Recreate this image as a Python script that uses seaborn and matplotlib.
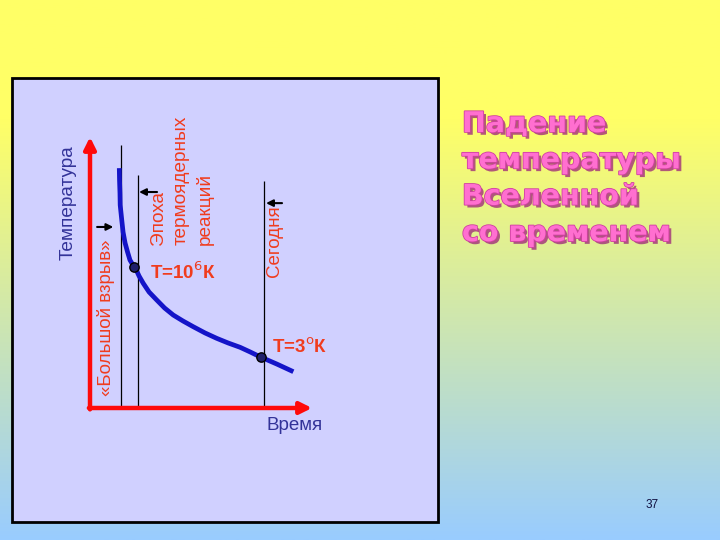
import matplotlib
matplotlib.use("Agg")
import matplotlib.pyplot as plt
import matplotlib.patheffects as pe
from matplotlib.colors import LinearSegmentedColormap
from matplotlib.patches import Rectangle
import numpy as np
import pandas as pd
import seaborn as sns

# blue cooling curve (time, temperature in arbitrary units 0-100)
time_pts = [13.2, 13.3, 13.5, 13.6, 14.3, 14.9, 15.8, 16.9, 18.0, 19.1, 20.3, 22.1, 24.0,
            26.6, 30.0, 33.6, 37.5, 41.9, 46.5, 51.8, 57.1, 62.2, 67.6, 72.1, 76.6, 84.2, 91.6]
temp_pts = [88.5, 84.1, 79.3, 74.9, 69.4, 64.9, 60.9, 57.6, 54.6, 53.1, 51.9, 48.7, 46.0,
            42.8, 39.9, 36.9, 34.3, 32.1, 30.0, 27.7, 25.7, 24.0, 22.4, 20.7, 18.9, 16.2, 13.4]

# marked moments on the curve
dot_time = [20.0, 77.0]
dot_temp = [52.1, 18.9]
dot_labels = ["Т=10$^{6}$К", "Т=3$^{\\mathrm{o}}$К"]

# vertical epoch lines: big bang, thermonuclear epoch, today
epoch_x = [14.0, 21.6, 78.4]
epoch_top = [97.0, 86.0, 83.8]
epoch_labels = ["«Большой взрыв»", "Эпоха\nтермоядерных\nреакций", "Сегодня"]

# small pointer arrows next to the epoch labels (start x, end x, y)
ptr_from = [3.2, 30.2, 86.5]
ptr_to = [10.5, 22.1, 79.3]
ptr_y = [66.8, 79.7, 75.6]

title_lines = ["Падение", "температуры", "Вселенной", "со временем"]
x_label = "Время"
y_label = "Температура"
page_no = "37"

plt.rcParams['font.family'] = ['Liberation Sans', 'DejaVu Sans']

RED = "#F03C1E"
fig = plt.figure(figsize=(7.2, 5.4), dpi=100)

# background: yellow -> light blue gradient, lavender panel
bg = fig.add_axes([0, 0, 1, 1])
grad_cmap = LinearSegmentedColormap.from_list(
    "slide", [(0.0, "#FFFF66"), (0.22, "#FFFF66"), (1.0, "#99CCFF")])
bg.imshow(np.linspace(0, 1, 256).reshape(-1, 1), cmap=grad_cmap, aspect="auto",
          extent=[0, 720, 540, 0])
bg.set_xlim(0, 720)
bg.set_ylim(540, 0)
bg.axis("off")
bg.add_patch(Rectangle((12, 78), 426, 444, facecolor="#D0D0FF", edgecolor="black", lw=2))

bg.text(462, 110, "\n".join(title_lines), ha="left", va="top", fontsize=20.5,
        fontweight="bold", family=["DejaVu Sans"], color="#FF6FD0", linespacing=1.38,
        path_effects=[pe.withSimplePatchShadow(offset=(2, -2), shadow_rgbFace="#A0307A", alpha=0.8),
                      pe.withStroke(linewidth=1.2, foreground="#D040A0")])
bg.text(652, 505, page_no, ha="center", va="center", fontsize=8.5, color="#101040")

# the diagram itself
ax = fig.add_axes([90 / 720, 1 - 408 / 540, 222 / 720, 271 / 540])
ax.patch.set_alpha(0)
ax.set_xlim(0, 100)
ax.set_ylim(0, 100)
ax.axis("off")

# axis arrows
arrow_kw = dict(arrowstyle="-|>,head_width=0.35,head_length=0.7", color="#FF0A0A", lw=3.2,
                shrinkA=0, shrinkB=0)
ax.annotate("", xy=(100, 0), xytext=(-0.5, 0), arrowprops=arrow_kw, annotation_clip=False)
ax.annotate("", xy=(0, 100), xytext=(0, -0.5), arrowprops=arrow_kw, annotation_clip=False)

ax.vlines(epoch_x, 0, epoch_top, colors="black", lw=0.9)

curve = pd.DataFrame({"time": time_pts, "temp": temp_pts})
sns.lineplot(data=curve, x="time", y="temp", ax=ax, color="#1414C8", lw=3.4, sort=False,
             solid_capstyle="butt", solid_joinstyle="round")
sns.scatterplot(x=dot_time, y=dot_temp, ax=ax, s=45, color="#20206A", edgecolor="black",
                linewidth=1, zorder=5)

for x0, x1, y in zip(ptr_from, ptr_to, ptr_y):
    ax.annotate("", xy=(x1, y), xytext=(x0, y),
                arrowprops=dict(arrowstyle="-|>,head_width=0.2,head_length=0.4",
                                color="black", lw=1.5, shrinkA=0, shrinkB=0))

# labels
ax.text(-9.9, 75.6, y_label, rotation=90, ha="center", va="center", fontsize=13.7,
        color="#333399")
ax.text(79.3, -6.3, x_label, ha="left", va="center", fontsize=13.5, color="#333399")

ax.text(7.4, 33.2, epoch_labels[0], rotation=90, ha="center", va="center", fontsize=13.5,
        color=RED)
ax.text(41.4, 60.1, epoch_labels[1], rotation=90, ha="center", va="bottom", fontsize=13.7,
        color=RED, multialignment="left", linespacing=1.45)
ax.text(83.3, 48.3, epoch_labels[2], rotation=90, ha="center", va="bottom", fontsize=13.5,
        color=RED)

ax.text(27.0, 50.2, dot_labels[0], ha="left", va="center", fontsize=13.5, fontweight="bold",
        color=RED)
ax.text(82.0, 22.5, dot_labels[1], ha="left", va="center", fontsize=13.5, fontweight="bold",
        color=RED)

fig.savefig("out.png", dpi=100)
